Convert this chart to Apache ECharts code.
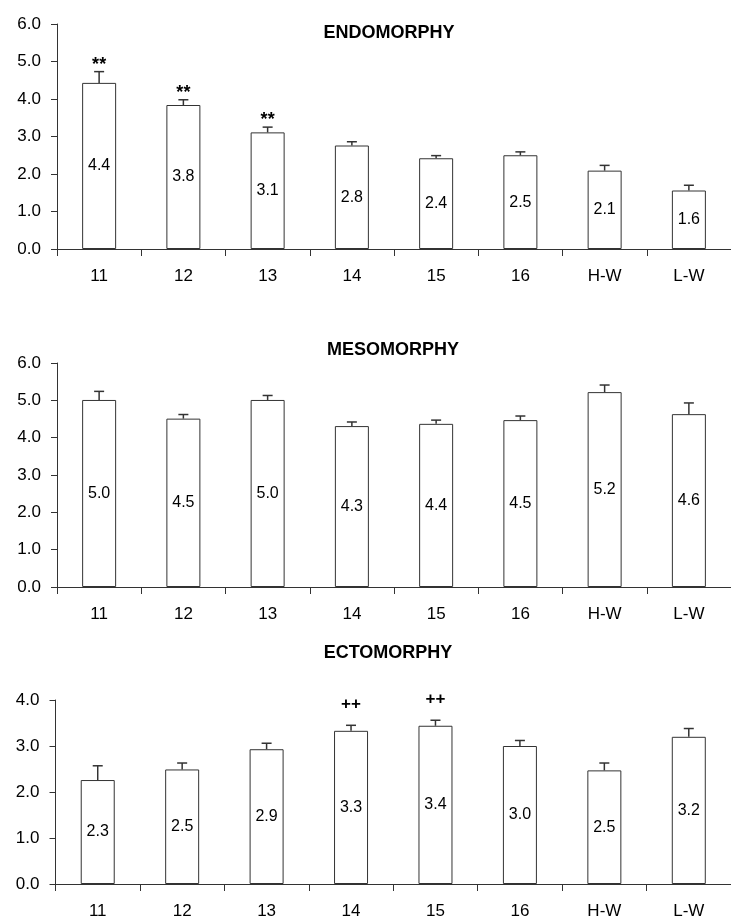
<!DOCTYPE html>
<html>
<head>
<meta charset="utf-8">
<script src="https://cdn.jsdelivr.net/npm/echarts@6/dist/echarts.min.js"></script>
<style>
html,body{margin:0;padding:0;background:#fff;}
#chart{width:731px;height:920px;}
</style>
</head>
<body>
<div id="chart"></div>
<script>
// ---- data ----
const categories = ['11', '12', '13', '14', '15', '16', 'H-W', 'L-W'];

const endoValues = [4.43, 3.84, 3.11, 2.76, 2.42, 2.50, 2.09, 1.56];
const endoSE     = [0.30, 0.14, 0.14, 0.10, 0.07, 0.09, 0.14, 0.14];
const endoMarks  = ['**', '**', '**', '', '', '', '', ''];

const mesoValues = [5.01, 4.51, 5.01, 4.31, 4.37, 4.47, 5.22, 4.63];
const mesoSE     = [0.23, 0.11, 0.12, 0.11, 0.10, 0.11, 0.19, 0.30];
const mesoMarks  = ['', '', '', '', '', '', '', ''];

const ectoValues = [2.26, 2.49, 2.93, 3.33, 3.44, 3.00, 2.47, 3.20];
const ectoSE     = [0.31, 0.14, 0.13, 0.12, 0.12, 0.12, 0.16, 0.18];
const ectoMarks  = ['', '', '', '++', '++', '', '', ''];

const titles = ['ENDOMORPHY', 'MESOMORPHY', 'ECTOMORPHY'];
const yMax = [6, 6, 4];
const yTickInterval = 1;

// ---- layout / style ----
const FONT = '"Liberation Sans", Arial, sans-serif';
const grids = [
  {left: 57, top: 24, width: 682, height: 225},
  {left: 57, top: 363, width: 682, height: 224},
  {left: 55.5, top: 700, width: 684, height: 186}
];
const titlePos = [{x: 389, y: 24}, {x: 393, y: 341}, {x: 388, y: 644}];
const markStyles = [
  {offset: 2, size: 18},
  {offset: 0, size: 17},
  {offset: -12, size: 17}
];

const datasets = [
  {values: endoValues, se: endoSE, marks: endoMarks},
  {values: mesoValues, se: mesoSE, marks: mesoMarks},
  {values: ectoValues, se: ectoSE, marks: ectoMarks}
];

const option = {
  animation: false,
  backgroundColor: '#fff',
  title: titles.map((t, i) => ({
    text: t, left: titlePos[i].x, top: titlePos[i].y, textAlign: 'center', padding: 0,
    textStyle: {fontFamily: FONT, fontWeight: 'bold', fontSize: 18, color: '#000'}
  })),
  grid: grids.map(g => Object.assign({containLabel: false}, g)),
  xAxis: grids.map((g, i) => ({
    type: 'category', gridIndex: i, data: categories, boundaryGap: true,
    axisLine: {show: true, lineStyle: {color: '#333', width: 1}},
    axisTick: {show: true, length: 7, inside: false, lineStyle: {color: '#333'}},
    axisLabel: {color: '#000', fontFamily: FONT, fontSize: 17, margin: 19},
    splitLine: {show: false}
  })),
  yAxis: grids.map((g, i) => ({
    type: 'value', gridIndex: i, min: 0, max: yMax[i], interval: yTickInterval,
    axisLine: {show: true, lineStyle: {color: '#333', width: 1}},
    axisTick: {show: true, length: 6, inside: false, lineStyle: {color: '#333'}},
    axisLabel: {color: '#000', fontFamily: FONT, fontSize: 17, margin: 16,
      formatter: v => v.toFixed(1)},
    splitLine: {show: false}
  })),
  series: []
};

datasets.forEach((d, i) => {
  option.series.push({
    type: 'bar', xAxisIndex: i, yAxisIndex: i,
    data: d.values, barWidth: 34,
    itemStyle: {color: '#fff', borderColor: '#333', borderWidth: 1},
    label: {show: true, position: 'inside', color: '#000', fontFamily: FONT, fontSize: 16,
      textBorderWidth: 0, formatter: p => p.value.toFixed(1)},
    z: 2
  });
  const ms = markStyles[i];
  option.series.push({
    type: 'custom', xAxisIndex: i, yAxisIndex: i, clip: false, z: 3,
    data: d.values.map((v, k) => [k, v, d.se[k]]),
    renderItem: function (params, api) {
      const k = api.value(0), v = api.value(1), se = api.value(2);
      const base = api.coord([k, v]);
      const top = api.coord([k, v + se]);
      const children = [
        {type: 'line', shape: {x1: base[0], y1: base[1], x2: top[0], y2: top[1]},
          style: {stroke: '#333', lineWidth: 1.5}},
        {type: 'line', shape: {x1: top[0] - 5, y1: top[1], x2: top[0] + 5, y2: top[1]},
          style: {stroke: '#333', lineWidth: 1.5}}
      ];
      const mark = d.marks[params.dataIndex];
      if (mark) {
        children.push({type: 'text', style: {
          text: mark, x: top[0], y: top[1] + ms.offset,
          align: 'center', verticalAlign: 'bottom',
          textAlign: 'center', textVerticalAlign: 'bottom',
          fontFamily: FONT, fontWeight: 'bold', fontSize: ms.size, fill: '#000'
        }});
      }
      return {type: 'group', children: children};
    }
  });
});

const chart = echarts.init(document.getElementById('chart'), null, {renderer: 'canvas'});
chart.setOption(option);
</script>
</body>
</html>
